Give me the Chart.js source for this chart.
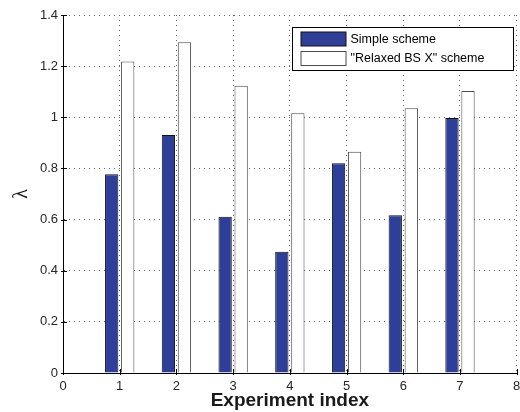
<!DOCTYPE html>
<html>
<head>
<meta charset="utf-8">
<script src="https://cdn.jsdelivr.net/npm/chart.js@4/dist/chart.umd.min.js"></script>
<style>
  html, body { margin: 0; padding: 0; background: #fff; }
  #wrap { position: relative; width: 520px; height: 412px; }
</style>
</head>
<body>
<div id="wrap"><canvas id="lambdaChart" width="520" height="412"></canvas></div>
<script>
const xLabels = ["0", "1", "2", "3", "4", "5", "6", "7", "8"];
const simpleValues = [null, 0.777, 0.931, 0.611, 0.474, 0.820, 0.617, 0.997, null];
const relaxedValues = [null, 1.218, 1.293, 1.123, 1.016, 0.865, 1.035, 1.103, null];
const seriesNames = ["Simple scheme", "\"Relaxed BS X\" scheme"];

const tickFont = { family: "Liberation Sans, Arial, sans-serif", size: 13 };

// matlab style ticks pointing into the plot
const innerTicksPlugin = {
  id: "innerTicks",
  afterDatasetsDraw(chart) {
    const { ctx, chartArea, scales } = chart;
    ctx.save();
    ctx.strokeStyle = "#000";
    ctx.lineWidth = 1;
    ctx.beginPath();
    scales.y.ticks.forEach((tick) => {
      const y = Math.round(scales.y.getPixelForValue(tick.value)) + 0.5;
      ctx.moveTo(chartArea.left - 2, y);
      ctx.lineTo(chartArea.left + 4, y);
    });
    xLabels.forEach((label, index) => {
      const x = Math.round(scales.x.getPixelForValue(index)) + 0.5;
      ctx.moveTo(x, chartArea.bottom + 2);
      ctx.lineTo(x, chartArea.bottom - 4);
    });
    ctx.stroke();
    ctx.restore();
  }
};

const boxLegendPlugin = {
  id: "boxLegend",
  afterDraw(chart) {
    const { ctx } = chart;
    const left = 292.5;
    const top = 27.5;
    const width = 221;
    const height = 43;
    ctx.save();
    ctx.fillStyle = "#fff";
    ctx.fillRect(left, top, width, height);
    ctx.strokeStyle = "#000";
    ctx.lineWidth = 1;
    ctx.strokeRect(left, top, width, height);

    ctx.font = "12.5px Liberation Sans, Arial, sans-serif";
    ctx.textBaseline = "middle";
    ctx.textAlign = "left";
    chart.data.datasets.forEach((dataset, index) => {
      const rowY = top + 4.5 + index * 19.5;
      ctx.fillStyle = dataset.backgroundColor;
      ctx.fillRect(left + 8.5, rowY, 45, 14);
      ctx.strokeStyle = dataset.borderColor;
      ctx.strokeRect(left + 8.5, rowY, 45, 14);
      ctx.fillStyle = "#000";
      ctx.fillText(dataset.label, left + 58, rowY + 7.5);
    });
    ctx.restore();
  }
};

new Chart(document.getElementById("lambdaChart"), {
  type: "bar",
  data: {
    labels: xLabels,
    datasets: [
      {
        label: seriesNames[0],
        data: simpleValues,
        backgroundColor: "#2e3f9a",
        borderColor: "#111111",
        borderWidth: 1,
        categoryPercentage: 0.565,
        barPercentage: 0.83
      },
      {
        label: seriesNames[1],
        data: relaxedValues,
        backgroundColor: "#ffffff",
        borderColor: "#4a4a4a",
        borderWidth: 1,
        categoryPercentage: 0.565,
        barPercentage: 0.83
      }
    ]
  },
  options: {
    responsive: false,
    animation: false,
    layout: { padding: { left: 0, top: 15, right: 0, bottom: 0 } },
    plugins: {
      legend: { display: false },
      tooltip: { enabled: false }
    },
    scales: {
      x: {
        offset: false,
        grid: { offset: false, color: "#666", drawTicks: false },
        border: { display: true, color: "#000", width: 1, dash: [1, 4] },
        ticks: { color: "#262626", font: tickFont, padding: 6, maxRotation: 0, autoSkip: false },
        title: {
          display: true,
          text: "Experiment index",
          color: "#1a1a1a",
          font: { family: "Liberation Sans, Arial, sans-serif", size: 19, weight: "bold" },
          padding: { top: 0, bottom: 0 }
        },
        afterFit(scale) {
          scale.height = 39;
          scale.paddingLeft = 0;
          scale.paddingRight = 3.3;
        }
      },
      y: {
        min: 0,
        max: 1.4,
        grid: { color: "#666", drawTicks: false },
        border: { display: true, color: "#000", width: 1, dash: [1, 4] },
        ticks: {
          stepSize: 0.2,
          color: "#262626",
          font: tickFont,
          padding: 5,
          callback: (value) => String(Math.round(value * 10) / 10)
        },
        title: {
          display: true,
          text: "λ",
          color: "#1a1a1a",
          font: { family: "Liberation Serif, serif", size: 20 },
          padding: { top: 10, bottom: 0 }
        },
        afterFit(scale) {
          scale.width = 63;
          scale.paddingTop = 0;
          scale.paddingBottom = 0;
        }
      }
    }
  },
  plugins: [innerTicksPlugin, boxLegendPlugin]
});
</script>
</body>
</html>
